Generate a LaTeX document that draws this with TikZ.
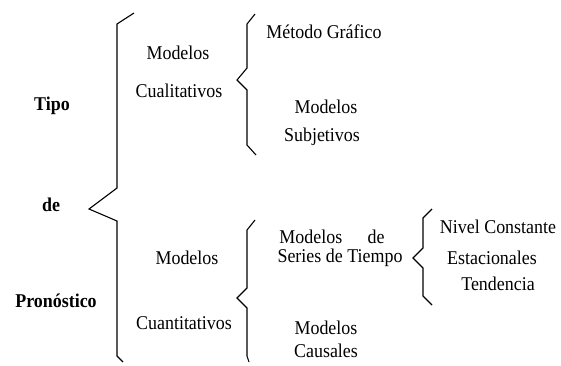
\documentclass[tikz,border=0pt]{standalone}
\usepackage{fontspec}
\setmainfont[FakeStretch=0.92]{Liberation Serif}
\begin{document}
\begin{tikzpicture}[x=1pt,y=-1pt,
  every node/.style={font=\fontsize{19.5}{22}\selectfont,inner sep=0pt},
  head/.style={font=\fontsize{19.5}{22}\selectfont\bfseries},
  llave/.style={line width=1.1pt,line join=miter}]
\useasboundingbox (0,0) rectangle (561,365);
% llave grande
\draw[llave] (134,13)--(117,24)--(117,188)--(89,209)--(117,221)--(117,356)--(123,362);
\node[head] (tipo) at (52,106) {Tipo};
\node[head] (de) at (51,205) {de};
\node[head] (prono) at (56,301) {Pronóstico};
% cualitativos
\node (cuali1) at (178,53) {Modelos};
\node (cuali2) at (179,91) {Cualitativos};
\draw[llave] (255,14)--(247,24)--(247,68)--(237,80)--(247,90)--(247,145)--(256,155);
\node (metodo) at (324,32) {Método Gráfico};
\node (subj1) at (326,107) {Modelos};
\node (subj2) at (322,137) {Subjetivos};
% cuantitativos
\node (cuanti1) at (187,258) {Modelos};
\node (cuanti2) at (184,323) {Cuantitativos};
\draw[llave] (255,220)--(247,230)--(247,288)--(237,298)--(247,308)--(247,356)--(249,362);
\node (series1) at (332,237) {Modelos\hspace{1.3em}de};
\node (series2) at (340,258) {Series de Tiempo};
\node (causal1) at (326,328) {Modelos};
\node (causal2) at (326,351) {Causales};
% series de tiempo
\draw[llave] (432,209)--(423,218)--(423,248)--(413,258)--(423,268)--(423,296)--(432,305);
\node (nivel) at (498,227) {Nivel Constante};
\node (estac) at (492,258) {Estacionales};
\node (tend) at (498,284) {Tendencia};
\end{tikzpicture}
\end{document}
